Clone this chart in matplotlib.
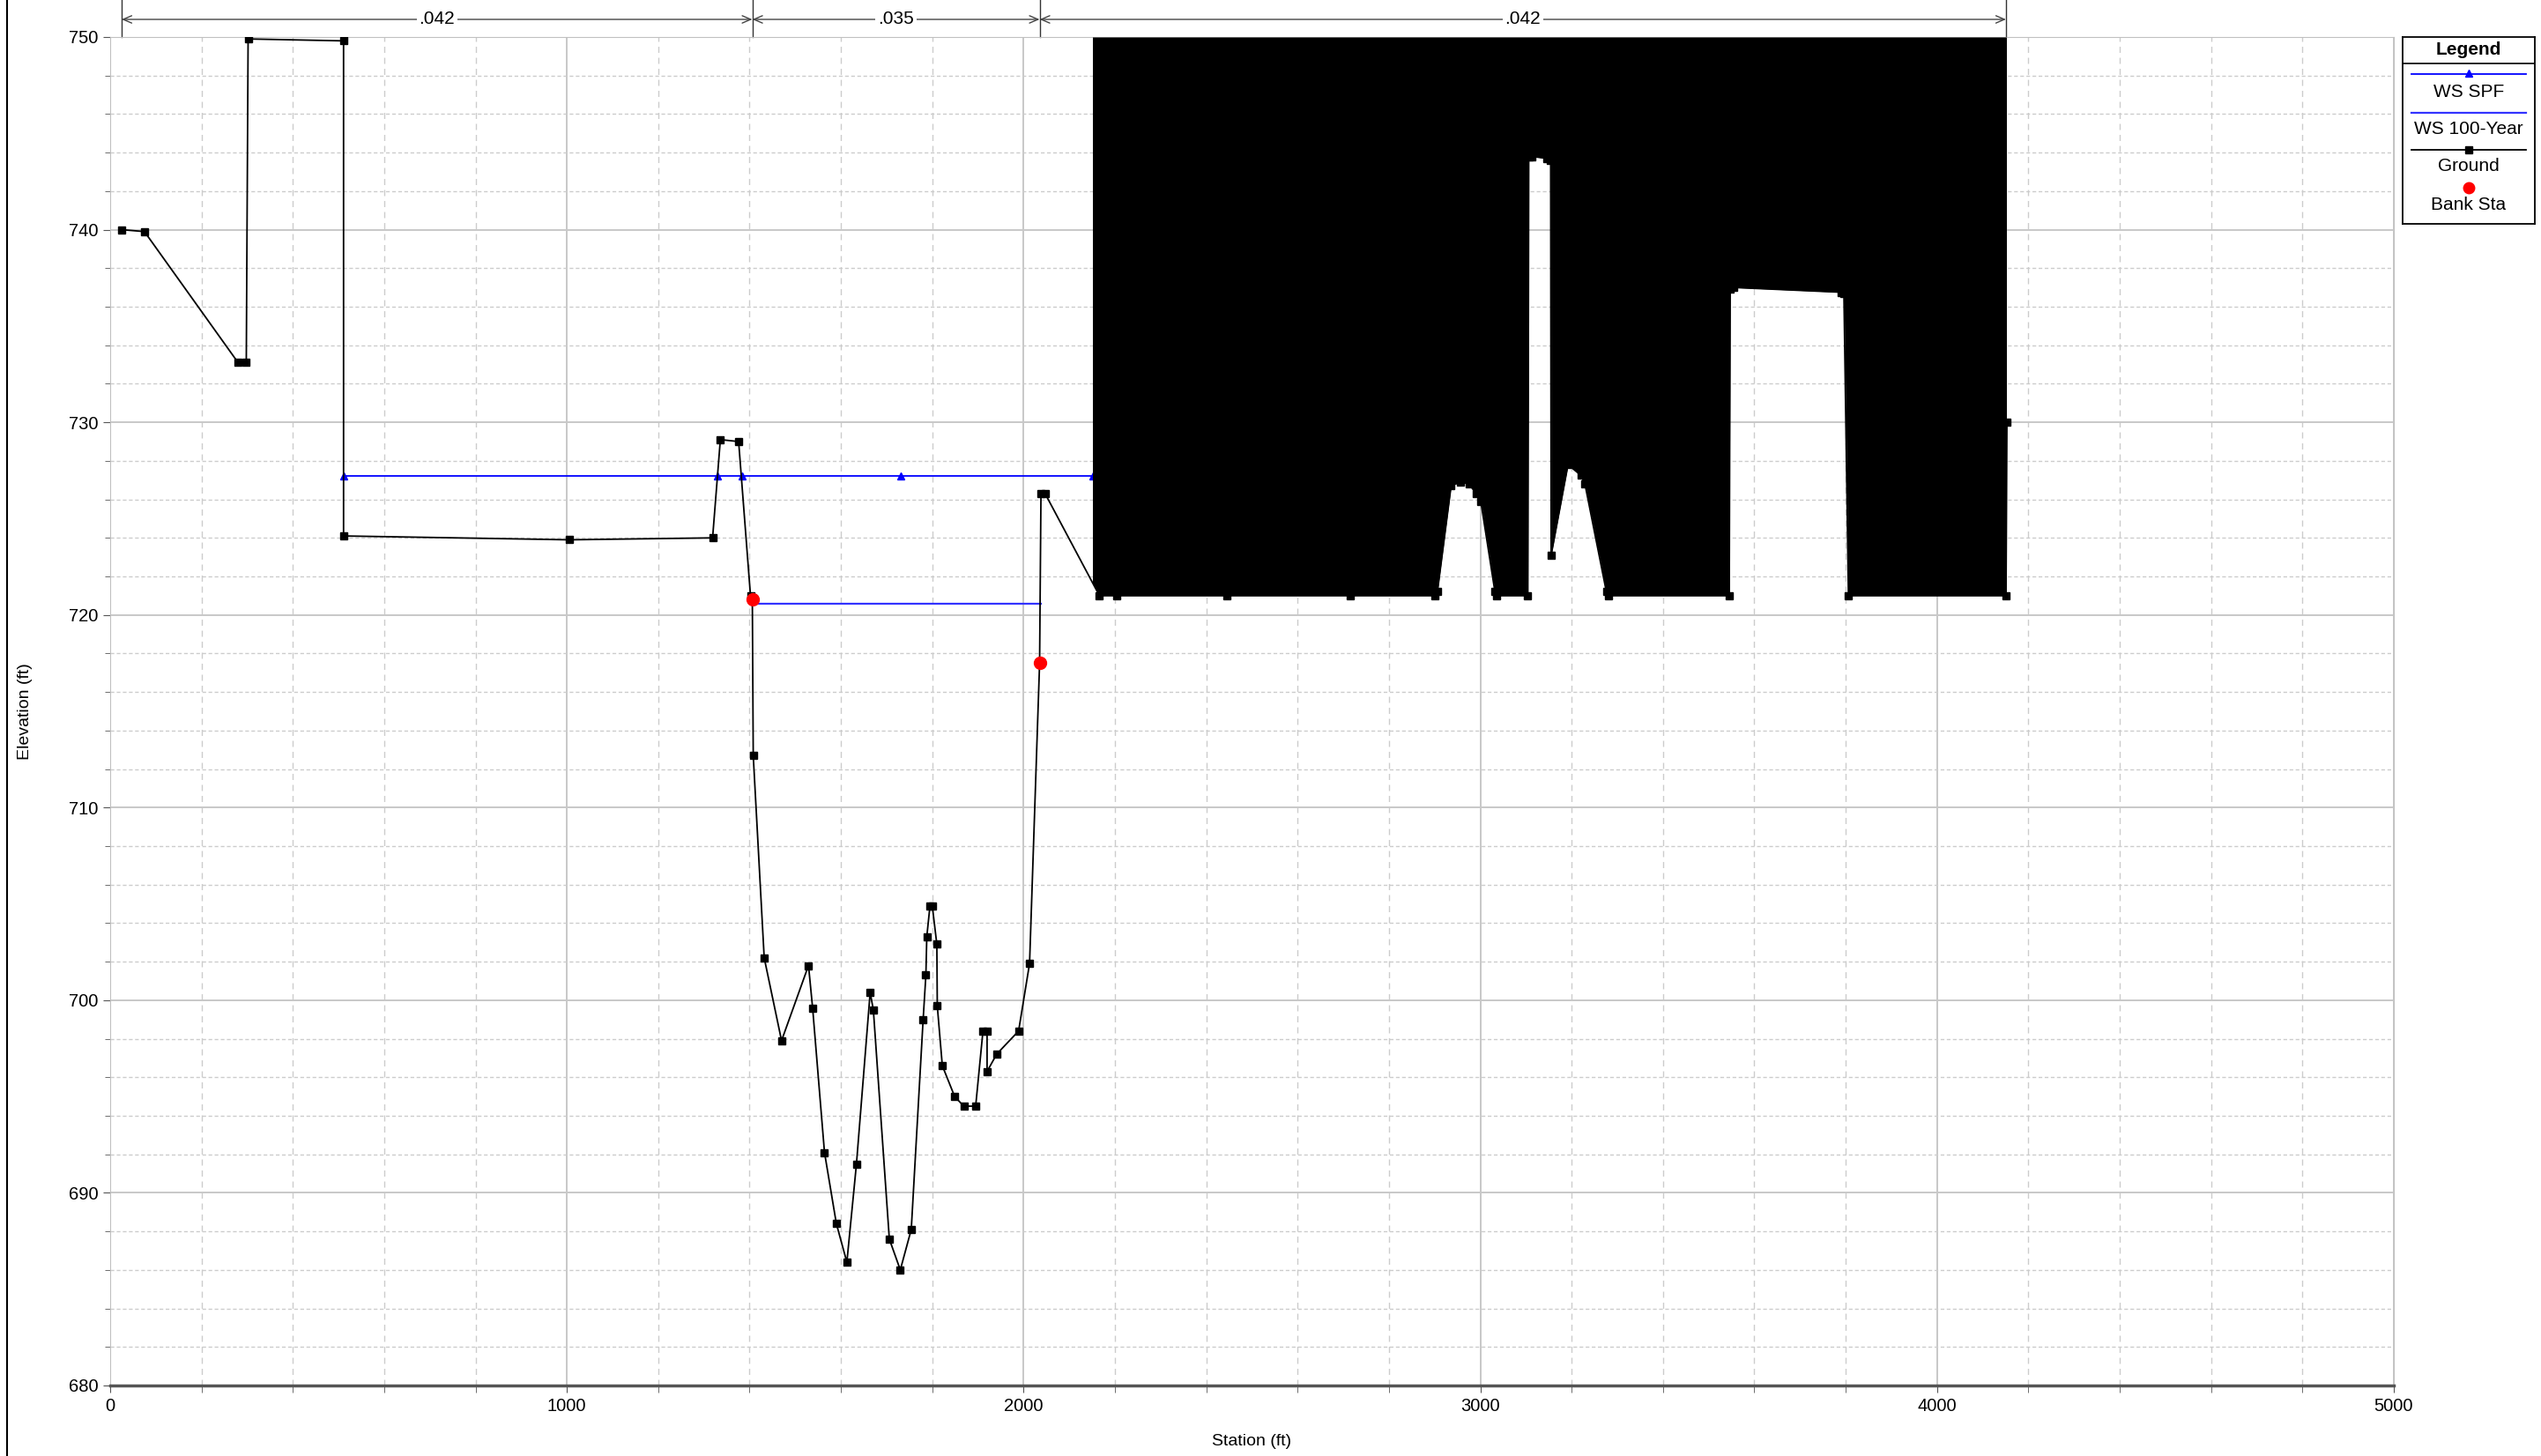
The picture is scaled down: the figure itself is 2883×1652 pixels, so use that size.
import numpy as np
import matplotlib.pyplot as plt
import matplotlib.transforms as mtransforms
from matplotlib.patches import Rectangle
from matplotlib.lines import Line2D
from matplotlib.ticker import MultipleLocator

plt.rcParams['font.family'] = ['Liberation Sans', 'DejaVu Sans']

# Ground profile (station ft, elevation ft)
ground_sta = [25, 75, 280, 298, 302, 511, 511, 1005, 1319, 1336, 1376, 1402, 1406, 1408,
              1432, 1470, 1529, 1538, 1564, 1590, 1613, 1634, 1664, 1671, 1706, 1730, 1754,
              1780, 1786, 1788, 1795, 1800, 1810, 1811, 1822, 1849, 1869, 1895, 1911, 1920,
              1920, 1941, 1989, 2013, 2035, 2038, 2047, 2166, 2204, 2445, 2716, 2901, 2906,
              2936, 2956, 2975, 2991, 3001, 3032, 3035, 3104, 3106, 3113, 3145, 3154, 3155,
              3192, 3220, 3229, 3276, 3280, 3545, 3547, 3554, 3791, 3796, 3806, 4151, 4153]
ground_elev = [740.0, 739.9, 733.1, 733.1, 749.9, 749.8, 724.1, 723.9, 724.0, 729.1, 729.0, 721.0, 720.8, 712.7,
               702.2, 697.9, 701.8, 699.6, 692.1, 688.4, 686.4, 691.5, 700.4, 699.5, 687.6, 686.0, 688.1,
               699.0, 701.3, 703.3, 704.9, 704.9, 702.9, 699.7, 696.6, 695.0, 694.5, 694.5, 698.4, 698.4,
               696.3, 697.2, 698.4, 701.9, 717.5, 726.3, 726.3, 721.0, 721.0, 721.0, 721.0, 721.0, 721.2,
               726.7, 726.9, 726.8, 726.3, 725.9, 721.2, 721.0, 721.0, 743.8, 743.8, 743.7, 743.6, 723.1,
               727.8, 727.25, 726.8, 721.2, 721.0, 721.0, 736.9, 737.0, 736.75, 736.7, 721.0, 721.0, 730.0]

bank_sta = [1406, 2035]
bank_elev = [720.8, 717.5]

ws_spf_sta = [511, 1329, 1383, 1731, 2152]
ws_spf_elev = [727.2, 727.2, 727.2, 727.2, 727.2]

ws_100_sta = [1406, 2038]
ws_100_elev = [720.6, 720.6]

n_breaks = [25, 1406, 2035, 4151]
n_values = ['.042', '.035', '.042']

block_sta = [2152, 4151]

fig = plt.figure(figsize=(28.83, 16.52), dpi=100)
ax = fig.add_axes([0.04336, 0.04843, 0.8987, 0.92615])

ax.set_xlim(0, 5000)
ax.set_ylim(680, 750)
ax.xaxis.set_major_locator(MultipleLocator(1000))
ax.xaxis.set_minor_locator(MultipleLocator(200))
ax.yaxis.set_major_locator(MultipleLocator(10))
ax.yaxis.set_minor_locator(MultipleLocator(2))
ax.set_axisbelow(True)
ax.grid(which='major', color='#c8c8c8', lw=1.4)
ax.xaxis.grid(which='minor', color='#cccccc', lw=1.0, ls=(0, (5, 4)))
ax.yaxis.grid(which='minor', color='#cccccc', lw=1.0, ls=(0, (3, 2)))

for side in ['top', 'right', 'left']:
    ax.spines[side].set_color('#c0c0c0')
ax.spines['bottom'].set_color('#555555')
ax.spines['bottom'].set_linewidth(2.5)
ax.tick_params(which='both', direction='out', color='#555555', labelsize=14.5)
ax.tick_params(axis='x', which='both', length=6, pad=4)
ax.tick_params(axis='y', which='major', length=6, pad=3.5)
ax.tick_params(axis='y', which='minor', length=4)

# water surfaces
ax.plot(ws_spf_sta, ws_spf_elev, color='blue', lw=1.3, marker='^', ms=6, zorder=2)
ax.plot(ws_100_sta, ws_100_elev, color='#3333ff', lw=1.6, zorder=2)

# blocked area above ground, limited to the obstruction stations
y_lo, y_hi = ax.get_ylim()
blk = ax.fill_between(ground_sta, ground_elev, y_hi, color='black', lw=0, zorder=3)
blk.set_clip_path(Rectangle((block_sta[0], y_lo), block_sta[1] - block_sta[0], y_hi - y_lo,
                            transform=ax.transData))

# ground and banks
ax.plot(ground_sta, ground_elev, color='black', lw=1.3, marker='s', ms=5.5, zorder=4)
ax.plot(bank_sta, bank_elev, ls='none', marker='o', color='red', ms=10, zorder=5)

ax.set_xlabel('Station (ft)', fontsize=14)
ax.set_ylabel('Elevation (ft)', fontsize=14)
ax.xaxis.set_label_coords(0.5, -0.036)
ax.yaxis.set_label_coords(-0.034, 0.5)

# Manning's n bands on top
trans = mtransforms.blended_transform_factory(ax.transData, ax.transAxes)
y_arrow = 1 + 20 / 1530
for s in n_breaks:
    ax.plot([s, s], [1, 1.03], transform=trans, color='#333333', lw=1, clip_on=False)
for i, n in enumerate(n_values):
    ax.annotate('', xy=(n_breaks[i], y_arrow), xytext=(n_breaks[i + 1], y_arrow),
                xycoords=trans, textcoords=trans,
                arrowprops=dict(arrowstyle='<->,head_length=0.7,head_width=0.3',
                                color='#444444', lw=1, shrinkA=0, shrinkB=0))
    ax.text((n_breaks[i] + n_breaks[i + 1]) / 2, y_arrow, n, transform=trans,
            ha='center', va='center', fontsize=15,
            bbox=dict(fc='white', ec='none', pad=2))

# legend box
lax = fig.add_axes([2726 / 2883, (1652 - 254) / 1652, 150 / 2883, 212 / 1652])
lax.set_xlim(0, 150)
lax.set_ylim(212, 0)
lax.set_xticks([])
lax.set_yticks([])
for sp in lax.spines.values():
    sp.set_color('black')
    sp.set_linewidth(1.3)
lax.text(75, 14, 'Legend', ha='center', va='center', fontsize=15, fontweight='bold')
lax.plot([0, 150], [30, 30], color='black', lw=1.2)
lax.plot([10, 140], [42, 42], color='blue', lw=1.3)
lax.plot([75], [41], marker='^', color='blue', ms=6)
lax.text(75, 62, 'WS SPF', ha='center', va='center', fontsize=15)
lax.plot([10, 140], [86, 86], color='#3333ff', lw=1.6)
lax.text(75, 105, 'WS 100-Year', ha='center', va='center', fontsize=15)
lax.plot([10, 140], [128, 128], color='black', lw=1.3)
lax.plot([75], [128], marker='s', color='black', ms=6)
lax.text(75, 147, 'Ground', ha='center', va='center', fontsize=15)
lax.plot([75], [171], marker='o', color='red', ms=9)
lax.text(75, 190, 'Bank Sta', ha='center', va='center', fontsize=15)

fig.add_artist(Line2D([8 / 2883, 8 / 2883], [0, 1], color='black', lw=1.5,
                      transform=fig.transFigure))

fig.savefig('out.png', dpi=100)
